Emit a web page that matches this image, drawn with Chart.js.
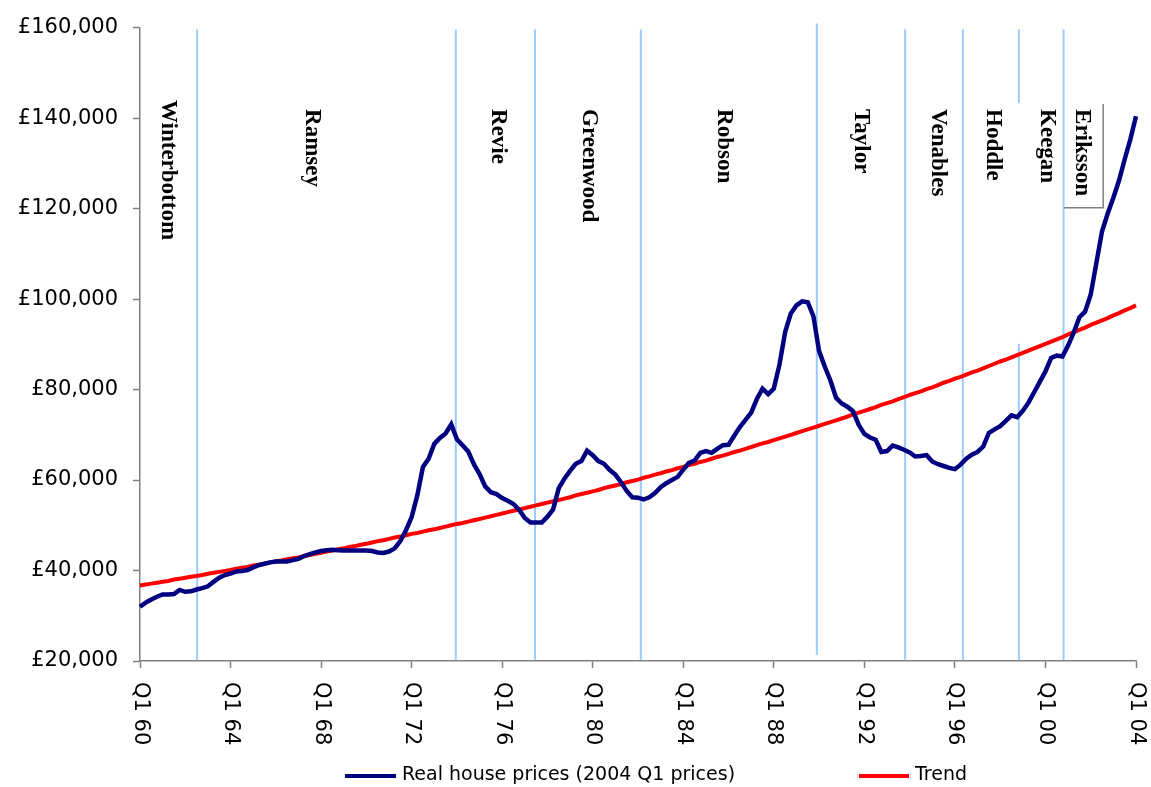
<!DOCTYPE html>
<html>
<head>
<meta charset="utf-8">
<script src="https://cdn.jsdelivr.net/npm/chart.js@4.4.1/dist/chart.umd.min.js"></script>
<style>
  html, body { margin: 0; padding: 0; background: #fff; }
  canvas { display: block; }
</style>
</head>
<body>
<canvas id="houseChart" width="1151" height="787"></canvas>
<script>
// Quarterly real house prices, Q1 1960 .. Q1 2004 (2004 Q1 prices)
const housePrices = [
    32000, 32900, 33600, 34200,   // 60
    34700, 34700, 34800, 35700,   // 61
    35300, 35400, 35800, 36100,   // 62
    36500, 37500, 38400, 39000,   // 63
    39300, 39800, 39900, 40100,   // 64
    40700, 41200, 41500, 41800,   // 65
    42000, 42000, 42000, 42300,   // 66
    42600, 43200, 43600, 44000,   // 67
    44300, 44500, 44600, 44500,   // 68
    44400, 44400, 44400, 44400,   // 69
    44400, 44300, 44000, 43900,   // 70
    44200, 44900, 46500, 48900,   // 71
    51800, 56600, 62900, 64700,   // 72
    68000, 69300, 70300, 72300,   // 73
    69000, 67700, 66300, 63500,   // 74
    61300, 58600, 57300, 56900,   // 75
    56000, 55400, 54700, 53400,   // 76
    51600, 50600, 50600, 50600,   // 77
    51900, 53500, 58200, 60300,   // 78
    62000, 63600, 64200, 66500,   // 79
    65500, 64200, 63600, 62200,   // 80
    61200, 59500, 57600, 56200,   // 81
    56100, 55700, 56200, 57100,   // 82
    58400, 59300, 60000, 60700,   // 83
    62300, 63800, 64300, 66000,   // 84
    66400, 66000, 66900, 67700,   // 85
    67800, 69800, 71700, 73300,   // 86
    74900, 77900, 80200, 79000,   // 87
    80200, 85500, 92700, 96800,   // 88
    98600, 99500, 99300, 96200,   // 89
    88500, 85100, 82000, 78200,   // 90
    76900, 76200, 75200, 72200,   // 91
    70200, 69400, 68900, 66200,   // 92
    66400, 67600, 67200, 66700,   // 93
    66100, 65200, 65300, 65500,   // 94
    64100, 63500, 63100, 62700,   // 95
    62400, 63400, 64700, 65600,   // 96
    66200, 67400, 70400, 71200,   // 97
    71900, 73100, 74300, 73900,   // 98
    75300, 77100, 79400, 81700,   // 99
    84000, 87000, 87500, 87300,   // 00
    89700, 92600, 96000, 97200,   // 01
    101000, 108000, 115000, 118900, // 02
    122400, 126200, 130900, 135300, // 03
    140400                          // 04 Q1
];

const trendPrices = [
    36700, 36900, 37100, 37300,
    37500, 37700, 38000, 38200,
    38400, 38600, 38800, 39000,
    39300, 39500, 39700, 39900,
    40100, 40400, 40600, 40800,
    41100, 41300, 41500, 41800,
    42000, 42200, 42500, 42700,
    42900, 43200, 43400, 43700,
    43900, 44200, 44400, 44700,
    44900, 45200, 45400, 45700,
    45900, 46200, 46500, 46700,
    47000, 47300, 47500, 47800,
    48100, 48300, 48600, 48900,
    49100, 49400, 49700, 50000,
    50300, 50500, 50800, 51100,
    51400, 51700, 52000, 52300,
    52600, 52900, 53200, 53500,
    53800, 54100, 54400, 54700,
    55000, 55300, 55600, 55900,
    56200, 56600, 56900, 57200,
    57500, 57800, 58200, 58500,
    58800, 59100, 59500, 59800,
    60100, 60500, 60800, 61200,
    61500, 61900, 62200, 62600,
    62900, 63300, 63600, 64000,
    64300, 64700, 65100, 65400,
    65800, 66200, 66500, 66900,
    67300, 67700, 68100, 68400,
    68800, 69200, 69600, 70000,
    70400, 70800, 71200, 71600,
    72000, 72400, 72800, 73200,
    73600, 74000, 74500, 74900,
    75300, 75700, 76100, 76600,
    77000, 77400, 77900, 78300,
    78800, 79200, 79600, 80100,
    80500, 81000, 81500, 81900,
    82400, 82800, 83300, 83800,
    84200, 84700, 85200, 85700,
    86200, 86600, 87100, 87600,
    88100, 88600, 89100, 89600,
    90100, 90600, 91100, 91600,
    92200, 92700, 93200, 93700,
    94300, 94800, 95300, 95800,
    96400, 96900, 97500, 98000,
    98600
];

// England managers and the quarter (index from Q1 60) where each reign ended
const managers = ['Winterbottom', 'Ramsey', 'Revie', 'Greenwood', 'Robson',
                  'Taylor', 'Venables', 'Hoddle', 'Keegan', 'Eriksson'];
const managerChanges = [10.1, 55.8, 69.8, 88.5, 119.6, 135.2, 145.4, 155.3, 163.2];
const managerLabelAt = [3.9, 29.3, 62.2, 78.3, 102.1, 126.4, 140.0, 149.7, 159.2, 165.4];

const seriesNames = ['Real house prices (2004 Q1 prices)', 'Trend'];
const yTicks = [20000, 40000, 60000, 80000, 100000, 120000, 140000, 160000];
const tickEvery = 16; // label every 4 years

const quarterLabels = [];
for (let yr = 1960; yr <= 2004; yr++) {
    for (let q = 1; q <= 4; q++) {
        if (yr === 2004 && q > 1) break;
        quarterLabels.push('Q' + q + ' ' + String(yr % 100).padStart(2, '0'));
    }
}

const NAVY = '#000080';
const RED = '#FF0000';
const AXIS = '#808080';
const MANAGER_LINE = '#99CCFF';

// vertical extents (in £) of each manager-change line; Hoddle's is broken by the labels
const changeSpans = [
    [[159600, 20300]], [[159600, 20300]], [[159600, 20300]], [[159600, 20300]],
    [[160900, 21300]], [[159600, 20300]], [[159600, 20300]],
    [[159600, 143300], [90100, 20300]], [[159600, 20300]]
];

const overlayPlugin = {
    id: 'overlay',
    beforeDatasetsDraw(chart) {
        const { ctx, scales: { x, y } } = chart;
        ctx.save();
        ctx.strokeStyle = MANAGER_LINE;
        ctx.lineWidth = 2;
        managerChanges.forEach((q, i) => {
            const px = x.getPixelForValue(q);
            changeSpans[i].forEach(([top, bottom]) => {
                ctx.beginPath();
                ctx.moveTo(px, y.getPixelForValue(top));
                ctx.lineTo(px, y.getPixelForValue(bottom));
                ctx.stroke();
            });
        });
        ctx.restore();
    },
    afterDatasetsDraw(chart) {
        const { ctx, scales: { x, y } } = chart;
        ctx.save();
        ctx.fillStyle = '#000';
        ctx.font = 'bold 23px "Liberation Serif", "Times New Roman", serif';
        ctx.textAlign = 'left';
        ctx.textBaseline = 'alphabetic';
        managers.forEach((name, i) => {
            const top = i === 0 ? 144000 : 142000;
            ctx.save();
            ctx.translate(x.getPixelForValue(managerLabelAt[i]), y.getPixelForValue(top));
            ctx.rotate(Math.PI / 2);
            ctx.fillText(name, 0, 0);
            ctx.restore();
        });
        // part-box round the Eriksson label
        ctx.strokeStyle = AXIS;
        ctx.lineWidth = 1.5;
        ctx.beginPath();
        ctx.moveTo(x.getPixelForValue(170.2), y.getPixelForValue(143100));
        ctx.lineTo(x.getPixelForValue(170.2), y.getPixelForValue(120200));
        ctx.lineTo(x.getPixelForValue(163.3), y.getPixelForValue(120200));
        ctx.stroke();
        ctx.restore();
    },
    afterDraw(chart) {
        const { ctx, scales: { x } } = chart;
        ctx.save();
        // x tick labels, rotated to read downwards
        ctx.fillStyle = '#000';
        ctx.font = '21px "DejaVu Sans", sans-serif';
        ctx.textAlign = 'left';
        ctx.textBaseline = 'middle';
        for (let i = 0; i < quarterLabels.length; i += tickEvery) {
            ctx.save();
            ctx.translate(x.getPixelForValue(i), chart.chartArea.bottom + 21);
            ctx.rotate(Math.PI / 2);
            ctx.fillText(quarterLabels[i], 0, 0);
            ctx.restore();
        }
        // legend
        const legendSlots = [[345, 396], [859, 909]];
        ctx.font = '19px "DejaVu Sans", sans-serif';
        chart.data.datasets.forEach((ds, i) => {
            const [x0, x1] = legendSlots[i];
            ctx.strokeStyle = ds.borderColor;
            ctx.lineWidth = 4;
            ctx.beginPath();
            ctx.moveTo(x0, 776);
            ctx.lineTo(x1, 776);
            ctx.stroke();
            ctx.fillText(ds.label, x1 + 6, 775);
        });
        ctx.restore();
    }
};

new Chart(document.getElementById('houseChart'), {
    type: 'line',
    data: {
        labels: quarterLabels,
        datasets: [
            {
                label: seriesNames[0],
                data: housePrices,
                borderColor: NAVY,
                backgroundColor: NAVY,
                borderWidth: 4.5,
                pointRadius: 0,
                tension: 0,
                fill: false
            },
            {
                label: seriesNames[1],
                data: trendPrices,
                borderColor: RED,
                backgroundColor: RED,
                borderWidth: 4,
                pointRadius: 0,
                tension: 0,
                fill: false
            }
        ]
    },
    options: {
        responsive: false,
        animation: false,
        layout: { padding: { top: 24, right: 15, left: 0, bottom: 0 } },
        scales: {
            x: {
                type: 'category',
                offset: false,
                afterFit: (scale) => { scale.height = 126; },
                ticks: { display: false },
                grid: {
                    drawOnChartArea: false,
                    drawTicks: true,
                    tickLength: 7,
                    tickWidth: 1.5,
                    tickColor: (c) => (c.index % tickEvery === 0 ? AXIS : 'rgba(0,0,0,0)')
                },
                border: { color: AXIS, width: 1.5 }
            },
            y: {
                min: 20000,
                max: 160000,
                afterFit: (scale) => { scale.width = 140; },
                afterBuildTicks: (scale) => { scale.ticks = yTicks.map(v => ({ value: v })); },
                ticks: {
                    padding: 15,
                    color: '#000',
                    font: { family: 'DejaVu Sans', size: 21 },
                    callback: (v) => '£' + Number(v).toLocaleString('en-GB')
                },
                grid: {
                    drawOnChartArea: false,
                    drawTicks: true,
                    tickLength: 7,
                    tickWidth: 1.5,
                    tickColor: AXIS
                },
                border: { color: AXIS, width: 1.5 }
            }
        },
        plugins: {
            legend: { display: false },
            tooltip: { enabled: false }
        }
    },
    plugins: [overlayPlugin]
});
</script>
</body>
</html>
